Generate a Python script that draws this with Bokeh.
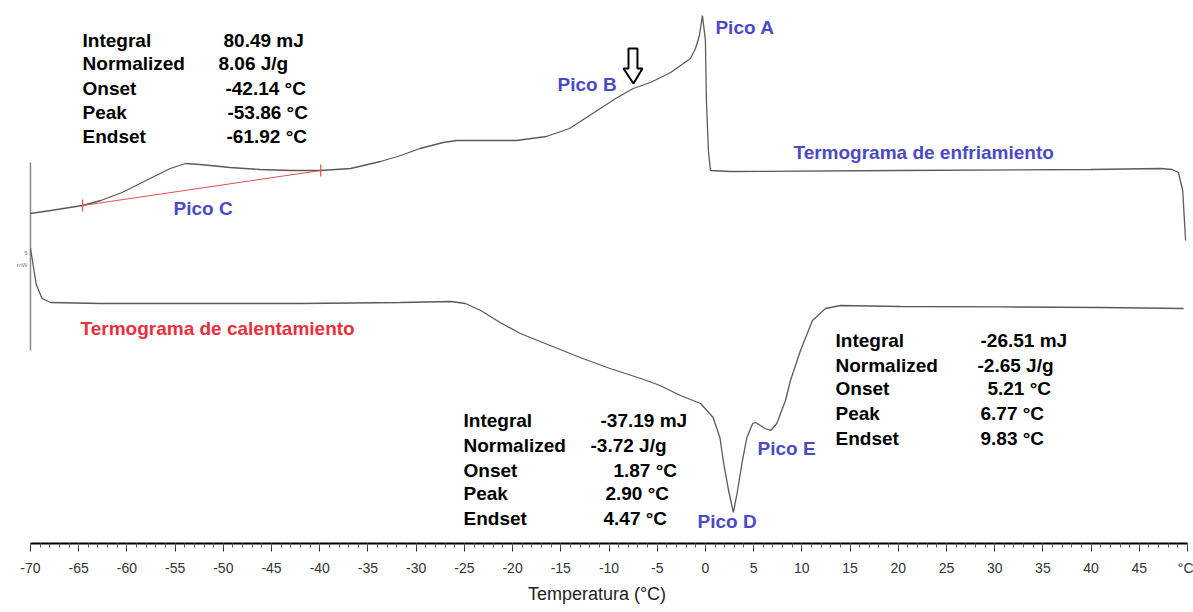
from bokeh.plotting import figure
from bokeh.models import Range1d, FixedTicker, ColumnDataSource
from bokeh.core.properties import value
from bokeh.embed import file_html
from bokeh.resources import INLINE

# --- DSC thermograms: temperature (°C) vs heat flow (mW, arbitrary offset) ---

# Cooling run (upper trace)
cooling_temp = [-70.0, -67.9, -64.6, -62.7, -60.5, -57.6, -55.5, -53.9, -52.4, -49.3,
                -46.2, -43.0, -39.9, -36.8, -33.7, -31.6, -29.6, -27.2, -25.8, -19.6,
                -16.5, -14.1, -12.5, -10.9, -9.3, -7.5, -5.7, -3.6, -1.55, -1.03,
                -0.62, -0.31, 0.0, 0.1, 0.31, 0.52, 2.6, 20.0, 40.0, 47.2,
                48.4, 49.06, 49.5, 49.8]
cooling_flow = [4.35, 4.5, 4.75, 5.0, 5.4, 6.1, 6.6, 6.85, 6.8, 6.65,
                6.55, 6.5, 6.5, 6.6, 6.95, 7.25, 7.6, 7.9, 8.0, 8.0,
                8.2, 8.6, 9.1, 9.6, 10.1, 10.6, 10.9, 11.4, 12.1, 12.6,
                13.25, 14.25, 13.0, 10.0, 7.5, 6.5, 6.45, 6.5, 6.55, 6.6,
                6.55, 6.4, 5.5, 3.0]

# Heating run (lower trace)
heating_temp = [-70.0, -69.8, -69.4, -68.8, -67.9, -62.7, -52.4, -42.0, -31.6, -26.4,
                -24.9, -23.3, -21.3, -19.2, -16.1, -13.0, -9.9, -6.7, -4.7, -2.6,
                -0.5, 0.8, 1.5, 1.9, 2.4, 2.9, 3.3, 3.8, 4.3, 4.9,
                5.2, 6.2, 6.77, 7.4, 8.3, 8.82, 9.86, 11.1, 12.45, 14.0,
                20.2, 30.6, 41.0, 49.6]
heating_flow = [2.6, 2.0, 0.8, 0.1, -0.1, -0.15, -0.15, -0.15, -0.1, -0.05,
                -0.15, -0.5, -1.1, -1.65, -2.25, -2.85, -3.4, -3.9, -4.25, -4.75,
                -5.15, -5.85, -6.85, -8.15, -9.5, -10.6, -9.6, -8.1, -6.85, -6.15,
                -6.1, -6.4, -6.5, -6.15, -5.0, -4.0, -2.5, -1.0, -0.4, -0.25,
                -0.3, -0.32, -0.35, -0.4]

# Integration baseline under peak C
baseline_temp = [-64.6, -39.9]
baseline_flow = [4.75, 6.5]

# Axis ticks (last one carries the unit)
major_ticks = list(range(-70, 51, 5))
minor_ticks = list(range(-70, 51))
tick_labels = [str(t) for t in major_ticks[:-1]] + ["°C"]

# Result tables
table_labels = ["Integral", "Normalized", "Onset", "Peak", "Endset"]
peak_c_values = ["80.49 mJ", "8.06 J/g", "-42.14 °C", "-53.86 °C", "-61.92 °C"]
peak_d_values = ["-37.19 mJ", "-3.72 J/g", "1.87 °C", "2.90 °C", "4.47 °C"]
peak_e_values = ["-26.51 mJ", "-2.65 J/g", "5.21 °C", "6.77 °C", "9.83 °C"]

peak_names = ["Pico A", "Pico B", "Pico C", "Pico D", "Pico E"]

FONT = value("Liberation Sans")
BLUE = "#4a4ac4"
RED = "#e8303c"
TRACE = "#5a5a5a"

p = figure(width=1193, height=612, output_backend="svg", toolbar_location=None,
           x_range=Range1d(-73.11, 50.62), y_range=Range1d(-12.15, 15.0),
           y_axis_location=None, min_border_left=0, min_border_right=0,
           min_border_top=0, min_border_bottom=69)
p.outline_line_color = None
p.xgrid.visible = False
p.ygrid.visible = False
p.background_fill_color = "white"
p.border_fill_color = "white"

# x axis
ax = p.xaxis[0]
ax.bounds = (-70, 50)
ax.ticker = FixedTicker(ticks=major_ticks, minor_ticks=minor_ticks)
ax.major_label_overrides = dict(zip(major_ticks, tick_labels))
ax.axis_line_color = "black"
ax.axis_line_width = 2
ax.major_tick_in = 0
ax.major_tick_out = 8
ax.minor_tick_in = 0
ax.minor_tick_out = 4
ax.major_tick_line_color = "#333333"
ax.minor_tick_line_color = "#555555"
ax.major_label_standoff = 8
ax.major_label_text_font = "Liberation Sans"
ax.major_label_text_font_size = "14px"
ax.major_label_text_color = "#333333"
ax.axis_label = "Temperatura (°C)"
ax.axis_label_text_font = "Liberation Sans"
ax.axis_label_text_font_size = "18px"
ax.axis_label_text_font_style = "normal"
ax.axis_label_text_color = "#222222"
ax.axis_label_standoff = 5

# Heat-flow scale bar
p.line([-70.0, -70.0], [6.9, -2.5], line_color="#8a8a8a", line_width=1.5)
p.text(x=[-70.31, -70.31], y=[2.4, 1.8], text=["5", "mW"], text_font=FONT,
       text_font_size="6px", text_color="#777777", text_align="right",
       text_baseline="middle")

# Thermogram traces
p.line(cooling_temp, cooling_flow, line_color=TRACE, line_width=1.3)
p.line(heating_temp, heating_flow, line_color=TRACE, line_width=1.3)

# Peak C baseline with limit markers
p.line(baseline_temp, baseline_flow, line_color="#e05050", line_width=1)
p.segment(x0=baseline_temp, y0=[f - 0.3 for f in baseline_flow],
          x1=baseline_temp, y1=[f + 0.3 for f in baseline_flow],
          line_color="#e05050", line_width=1.2)

# Arrow marking the shoulder (peak B)
p.patch([-7.98, -7.05, -7.05, -6.53, -7.46, -8.50, -7.98],
        [12.6, 12.6, 11.6, 11.6, 10.85, 11.6, 11.6],
        fill_color="white", line_color="black", line_width=2)


def table(x_lab, x_vals, ys, vals):
    src = ColumnDataSource(dict(x=[x_lab] * len(ys), y=ys, t=table_labels))
    p.text(x="x", y="y", text="t", source=src, text_font=FONT, text_font_size="19px",
           text_font_style="bold", text_color="black", text_baseline="middle")
    p.text(x=x_vals, y=ys, text=vals, text_font=FONT, text_font_size="19px",
           text_font_style="bold", text_color="black", text_baseline="middle")


table(-64.6, [-49.98, -50.5, -49.78, -49.57, -49.67],
      [13.0, 11.85, 10.6, 9.4, 8.2], peak_c_values)
table(-25.09, [-10.88, -11.92, -9.54, -10.37, -10.57],
      [-6.0, -7.25, -8.5, -9.65, -10.9], peak_d_values)
table(13.49, [28.53, 28.22, 29.25, 28.53, 28.53],
      [-2.0, -3.25, -4.4, -5.65, -6.9], peak_e_values)

# Peak names
p.text(x=[1.04, -15.34, -55.17, -0.82, 5.4], y=[13.65, 10.8, 4.6, -11.05, -7.4],
       text=peak_names, text_font=FONT, text_font_size="19px",
       text_font_style="bold", text_color=BLUE, text_baseline="middle")

# Trace titles
p.text(x=[9.13], y=[7.4], text=["Termograma de enfriamiento"], text_font=FONT,
       text_font_size="19px", text_font_style="bold", text_color=BLUE,
       text_baseline="middle")
p.text(x=[-64.81], y=[-1.4], text=["Termograma de calentamiento"], text_font=FONT,
       text_font_size="19px", text_font_style="bold", text_color=RED,
       text_baseline="middle")

open("out.html", "w").write(file_html(p, INLINE))
